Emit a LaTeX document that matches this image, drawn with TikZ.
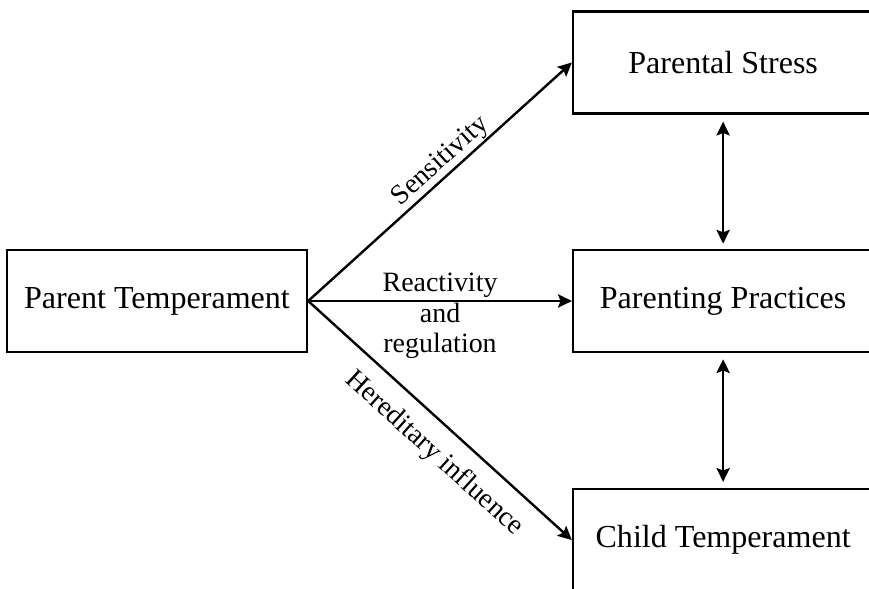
\documentclass[tikz,border=0pt]{standalone}
\usepackage{fontspec}
\setmainfont{Liberation Serif}
\usetikzlibrary{arrows.meta,positioning}

\begin{document}
\begin{tikzpicture}
[node distance=18.87cm,>={Stealth[length=0.46cm,width=0.44cm,inset=0.08cm]},line width=0.08cm]
\tikzstyle{box}=[rectangle, draw, minimum width=10cm, minimum height=3.4cm, font=\fontsize{30.4}{34}\selectfont]
\tikzstyle{lbl}=[inner sep=1pt, font=\fontsize{26.5}{29}\selectfont]

\useasboundingbox (-5.233,-9.567) rectangle (23.733,10.033);

\node[box] (pt) {Parent Temperament};
\node[box] (pp) [right of = pt] {Parenting Practices};
\node[box] (ps) [above of = pp, node distance = 7.95cm] {Parental Stress};
\node[box] (ct) [below of = pp, node distance = 7.97cm] {Child Temperament};

\path[->]
			(pt.east) 	edge node [lbl, sloped, above, pos=0.54] {Sensitivity} (ps.west)
			(pt.east) 	edge node [lbl, align=center, yshift=-0.5cm] {Reactivity\\and\\regulation} (pp.west)
			(pt.east) 	edge node [lbl, sloped, below=0.45cm, pos=0.55] {Hereditary influence} (ct.west)
			(ps) 	edge [<->, shorten <=0.23cm, shorten >=0.17cm] (pp)
			(pp) 	edge [<->, shorten <=0.2cm, shorten >=0.2cm] (ct)
			;
\end{tikzpicture}
\end{document}
